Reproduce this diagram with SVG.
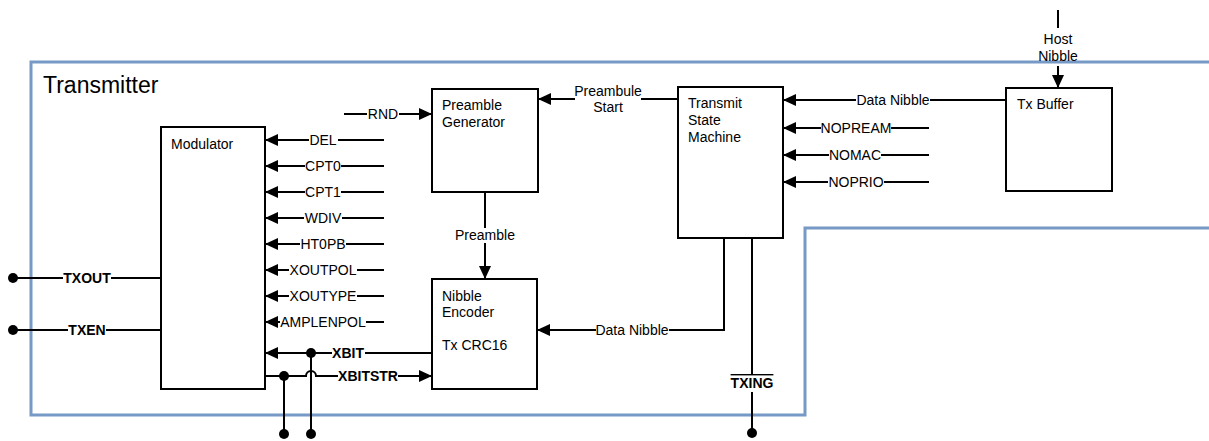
<svg xmlns="http://www.w3.org/2000/svg" width="1209" height="441" viewBox="0 0 1209 441">
  <style>
    .frame{fill:none;stroke:#7799c5;stroke-width:3}
    .box{fill:#fff;stroke:#000;stroke-width:2}
    .w{fill:none;stroke:#000;stroke-width:2}
    .a{marker-end:url(#arrow)}
    .dot{fill:#000}
    .t{font-family:"Liberation Sans",Arial,sans-serif;font-size:14px;fill:#000}
    .b{font-weight:bold}
    .c{text-anchor:middle}
    .title{font-family:"Liberation Sans",Arial,sans-serif;font-size:23px;fill:#000}
  </style>
  <defs>
    <marker id="arrow" markerUnits="userSpaceOnUse" markerWidth="13" markerHeight="13" refX="13" refY="6" orient="auto">
      <path d="M0,0 L13,6 L0,12 Z" fill="#000"/>
    </marker>
  </defs>
  <rect width="1209" height="441" fill="#fff"/>

  <!-- Transmitter boundary -->
  <g id="transmitter">
    <path class="frame" d="M1209,62 H31 V415 H805 V228 H1209"/>
    <text class="title" x="43" y="93">Transmitter</text>
  </g>

  <!-- Blocks -->
  <g id="modulator">
    <rect class="box" x="161" y="127" width="104" height="262"/>
    <text class="t" x="171" y="149">Modulator</text>
  </g>
  <g id="preamble-generator">
    <rect class="box" x="432" y="89" width="106" height="103"/>
    <text class="t" x="442" y="110">Preamble</text>
    <text class="t" x="442" y="127">Generator</text>
  </g>
  <g id="nibble-encoder">
    <rect class="box" x="432" y="279" width="105" height="110"/>
    <text class="t" x="442" y="301">Nibble</text>
    <text class="t" x="442" y="317">Encoder</text>
    <text class="t" x="442" y="350">Tx CRC16</text>
  </g>
  <g id="transmit-state-machine">
    <rect class="box" x="678" y="87" width="105" height="151"/>
    <text class="t" x="688" y="108">Transmit</text>
    <text class="t" x="688" y="125">State</text>
    <text class="t" x="688" y="142">Machine</text>
  </g>
  <g id="tx-buffer">
    <rect class="box" x="1006" y="88" width="106" height="103"/>
    <text class="t" x="1017" y="109">Tx Buffer</text>
  </g>

  <!-- Connectors -->
  <g id="connectors">
    <!-- Modulator configuration inputs -->
    <path class="w" d="M384,140 H338"/><path class="w a" d="M309,140 H265"/>
    <text class="t c" x="323" y="145">DEL</text>
    <path class="w" d="M384,166 H341"/><path class="w a" d="M305,166 H265"/>
    <text class="t c" x="323" y="171">CPT0</text>
    <path class="w" d="M384,192 H341"/><path class="w a" d="M305,192 H265"/>
    <text class="t c" x="323" y="197">CPT1</text>
    <path class="w" d="M384,218 H342"/><path class="w a" d="M304,218 H265"/>
    <text class="t c" x="323" y="223">WDIV</text>
    <path class="w" d="M384,244 H346"/><path class="w a" d="M300,244 H265"/>
    <text class="t c" x="323" y="249">HT0PB</text>
    <path class="w" d="M384,270 H357"/><path class="w a" d="M289,270 H265"/>
    <text class="t c" x="323" y="275">XOUTPOL</text>
    <path class="w" d="M384,296 H357"/><path class="w a" d="M289,296 H265"/>
    <text class="t c" x="323" y="301">XOUTYPE</text>
    <path class="w" d="M384,322 H366"/><path class="w a" d="M280,322 H265"/>
    <text class="t c" x="323" y="327">AMPLENPOL</text>

    <!-- Modulator outputs -->
    <path class="w" d="M13,278 H63"/><path class="w" d="M111,278 H161"/>
    <text class="t b c" x="87" y="283">TXOUT</text>
    <circle class="dot" cx="13" cy="278" r="5"/>
    <path class="w" d="M13,330 H68"/><path class="w" d="M106,330 H161"/>
    <text class="t b c" x="87" y="335">TXEN</text>
    <circle class="dot" cx="13" cy="330" r="5"/>

    <!-- Bit stream between encoder and modulator -->
    <path class="w" d="M432,353 H365"/><path class="w a" d="M332,353 H265"/>
    <text class="t b c" x="348" y="358">XBIT</text>
    <path class="w" d="M311,353 V434"/>
    <circle class="dot" cx="311" cy="353" r="5"/>
    <circle class="dot" cx="311" cy="434" r="5"/>
    <path class="w" d="M265,376 H306 A5,5 0 0 1 316,376 H338"/><path class="w a" d="M398,376 H432"/>
    <text class="t b c" x="368" y="381">XBITSTR</text>
    <path class="w" d="M284,376 V434"/>
    <circle class="dot" cx="284" cy="376" r="5"/>
    <circle class="dot" cx="284" cy="434" r="5"/>

    <!-- Preamble path -->
    <path class="w" d="M344,114 H367"/><path class="w a" d="M399,114 H432"/>
    <text class="t c" x="383" y="119">RND</text>
    <path class="w" d="M485,192 V228"/><path class="w a" d="M485,243 V279"/>
    <text class="t c" x="485" y="240">Preamble</text>
    <path class="w" d="M678,99 H641"/><path class="w a" d="M575,99 H538"/>
    <text class="t c" x="608" y="96">Preambule</text>
    <text class="t c" x="608" y="112">Start</text>

    <!-- State machine to encoder -->
    <path class="w" d="M724,238 V330 H669"/><path class="w a" d="M596,330 H537"/>
    <text class="t c" x="632" y="335">Data Nibble</text>
    <path class="w" d="M752,238 V374"/><path class="w" d="M752,392 V433"/>
    <text class="t b c" x="752" y="388" style="text-decoration:overline">TXING</text>
    <circle class="dot" cx="752" cy="433" r="5"/>

    <!-- State machine inputs -->
    <path class="w" d="M1006,100 H930"/><path class="w a" d="M856,100 H783"/>
    <text class="t c" x="893" y="105">Data Nibble</text>
    <path class="w" d="M929,128 H891"/><path class="w a" d="M821,128 H783"/>
    <text class="t c" x="856" y="133">NOPREAM</text>
    <path class="w" d="M929,155 H881"/><path class="w a" d="M829,155 H783"/>
    <text class="t c" x="855" y="160">NOMAC</text>
    <path class="w" d="M929,182 H884"/><path class="w a" d="M828,182 H783"/>
    <text class="t c" x="856" y="187">NOPRIO</text>

    <!-- Host input -->
    <path class="w" d="M1058,10 V28"/><path class="w a" d="M1058,66 V88"/>
    <text class="t c" x="1058" y="44">Host</text>
    <text class="t c" x="1058" y="61">Nibble</text>
  </g>
</svg>
